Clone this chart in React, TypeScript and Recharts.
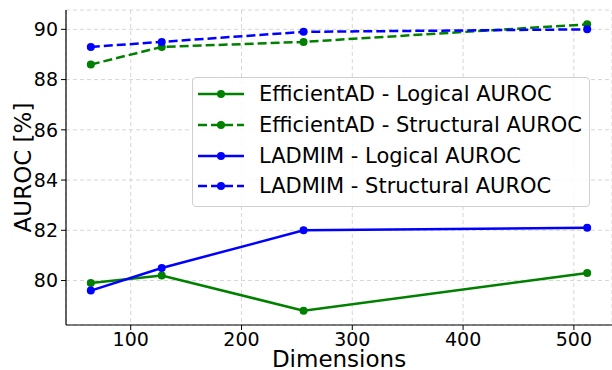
import React from 'react';
import { LineChart, Line, XAxis, YAxis, CartesianGrid, Legend, Label } from 'recharts';

const dims = [64, 128, 256, 512];
const effLogical = [79.9, 80.2, 78.8, 80.3];
const effStructural = [88.6, 89.3, 89.5, 90.2];
const ladLogical = [79.6, 80.5, 82.0, 82.1];
const ladStructural = [89.3, 89.5, 89.9, 90.0];
const xTicks = [100, 200, 300, 400, 500];
const yTicks = [80, 82, 84, 86, 88, 90];

const seriesNames = [
  'EfficientAD - Logical AUROC',
  'EfficientAD - Structural AUROC',
  'LADMIM - Logical AUROC',
  'LADMIM - Structural AUROC',
];

const data = dims.map((d, i) => ({
  dim: d,
  effL: effLogical[i],
  effS: effStructural[i],
  ladL: ladLogical[i],
  ladS: ladStructural[i],
}));

const GREEN = '#008000';
const BLUE = '#0000ff';
const FONT = 'DejaVu Sans';
const DASH = '9 4';

const legendItems = [
  { name: seriesNames[0], color: GREEN, dash: undefined },
  { name: seriesNames[1], color: GREEN, dash: DASH },
  { name: seriesNames[2], color: BLUE, dash: undefined },
  { name: seriesNames[3], color: BLUE, dash: DASH },
];

const renderLegend = () => (
  <div
    style={{
      position: 'absolute',
      left: 0,
      top: 0,
      boxSizing: 'border-box',
      width: 398,
      height: 130,
      border: '1px solid #d0d0d0',
      borderRadius: 4,
      background: 'rgba(255,255,255,0.85)',
      padding: '1px 0 0 4px',
      fontFamily: FONT,
      fontSize: 21,
      color: '#000',
    }}
  >
    {legendItems.map((it) => (
      <div key={it.name} style={{ display: 'flex', alignItems: 'center', height: 30.7 }}>
        <svg width={50} height={12} style={{ flex: 'none' }}>
          <line x1={1} y1={6} x2={47} y2={6} stroke={it.color} strokeWidth={2.5} strokeDasharray={it.dash} />
          <circle cx={24} cy={6} r={4} fill={it.color} />
        </svg>
        <span style={{ marginLeft: 12, whiteSpace: 'nowrap' }}>{it.name}</span>
      </div>
    ))}
  </div>
);

const tickStyle = { fontFamily: FONT, fontSize: 19, fill: '#000' };

export default function App() {
  return (
    <div style={{ position: 'absolute', left: 0, top: 0, width: 612, height: 370, background: '#fff' }}>
      <LineChart width={612} height={370} data={data} margin={{ top: 10, right: 0, left: 0, bottom: 0 }}>
        <CartesianGrid stroke="#d6d6d6" strokeDasharray="4 3" strokeWidth={1} />
        <XAxis
          dataKey="dim"
          type="number"
          domain={[41.6, 534.4]}
          ticks={xTicks}
          allowDataOverflow
          height={45}
          tick={tickStyle}
          tickSize={5}
          tickMargin={3}
          axisLine={{ stroke: '#000', strokeWidth: 1.2 }}
          tickLine={{ stroke: '#000' }}
        >
          <Label value="Dimensions" position="insideBottom" offset={3} style={{ fontFamily: FONT, fontSize: 23, fill: '#000' }} />
        </XAxis>
        <XAxis
          xAxisId="top"
          dataKey="dim"
          type="number"
          orientation="top"
          domain={[41.6, 534.4]}
          height={0}
          tick={false}
          tickLine={false}
          axisLine={{ stroke: '#000', strokeWidth: 1.2 }}
        />
        <YAxis
          type="number"
          domain={[78.23, 90.77]}
          ticks={yTicks}
          allowDataOverflow
          width={66}
          tick={tickStyle}
          tickSize={5}
          tickMargin={3}
          axisLine={{ stroke: '#000', strokeWidth: 1.2 }}
          tickLine={{ stroke: '#000' }}
        >
          <Label
            value="AUROC [%]"
            angle={-90}
            position="insideLeft"
            offset={0}
            dx={23}
            style={{ fontFamily: FONT, fontSize: 23, fill: '#000', textAnchor: 'middle' }}
          />
        </YAxis>
        <Legend
          content={renderLegend}
          wrapperStyle={{ position: 'absolute', left: 192, top: 77, width: 0, height: 0, overflow: 'visible' }}
        />
        <Line dataKey="effL" name={seriesNames[0]} stroke={GREEN} strokeWidth={2.5} dot={{ r: 4, fill: GREEN, stroke: GREEN, strokeWidth: 0 }} isAnimationActive={false} />
        <Line dataKey="effS" name={seriesNames[1]} stroke={GREEN} strokeWidth={2.5} strokeDasharray={DASH} dot={{ r: 4, fill: GREEN, stroke: GREEN, strokeWidth: 0, strokeDasharray: '' }} isAnimationActive={false} />
        <Line dataKey="ladL" name={seriesNames[2]} stroke={BLUE} strokeWidth={2.5} dot={{ r: 4, fill: BLUE, stroke: BLUE, strokeWidth: 0 }} isAnimationActive={false} />
        <Line dataKey="ladS" name={seriesNames[3]} stroke={BLUE} strokeWidth={2.5} strokeDasharray={DASH} dot={{ r: 4, fill: BLUE, stroke: BLUE, strokeWidth: 0, strokeDasharray: '' }} isAnimationActive={false} />
      </LineChart>
    </div>
  );
}
